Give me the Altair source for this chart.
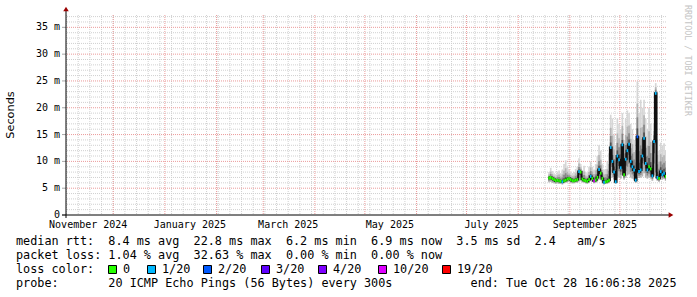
import altair as alt
import pandas as pd

# ---------------- data ----------------
first_day = "2025-08-19"
median_ms = [6.9, 7.0, 6.8, 6.6, 6.4, 6.5, 6.4, 6.3, 6.2, 6.4, 6.5, 6.7, 6.8,
             6.6, 6.4, 6.4, 6.5, 6.6, 8.1, 8.0, 6.7, 6.5, 6.4, 6.3, 6.6, 7.2, 6.8, 6.4, 6.5, 7.0,
             8.5, 7.8, 6.8, 6.1, 6.2, 6.3, 6.5, 12.6, 10.0, 8.0, 6.2, 11.0, 10.3,
             8.8, 13.1, 7.5, 10.4, 12.0, 13.2, 10.0, 9.0, 8.4, 6.5, 14.6, 8.1, 8.4, 11.0,
             14.3, 9.6, 8.4, 9.0, 8.6, 7.3, 13.7, 22.7, 7.0, 6.8, 8.1, 7.5, 7.8, 7.2]
smoke_hi_ms = [8.0, 8.8, 8.2, 7.8, 7.6, 8.0, 8.3, 7.8, 8.5, 9.5, 10.2, 9.0, 8.4,
               8.0, 7.8, 8.0, 8.6, 9.0, 10.6, 9.5, 8.4, 9.2, 8.0, 7.8, 9.0, 10.0, 9.0, 8.5, 9.5, 11.0,
               13.0, 12.0, 9.5, 8.5, 8.6, 10.0, 11.5, 18.7, 18.0, 15.0, 13.0, 18.0, 17.0,
               16.0, 19.0, 14.0, 18.0, 19.5, 19.0, 17.0, 16.0, 14.0, 12.0, 24.9, 19.0, 21.5, 20.0,
               21.5, 18.0, 16.0, 20.0, 17.0, 13.0, 17.0, 24.6, 14.0, 12.0, 13.5, 13.0, 13.4, 12.0]
smoke_lo_ms = [6.1, 6.2, 6.0, 5.9, 5.8, 5.9, 5.8, 5.8, 5.7, 5.9, 6.0, 6.1, 6.2,
               6.0, 5.9, 5.9, 6.0, 6.0, 6.3, 6.4, 6.1, 6.0, 5.9, 5.8, 6.0, 6.3, 6.2, 5.9, 6.0, 6.3,
               6.6, 6.5, 6.2, 5.7, 5.8, 5.8, 6.0, 7.5, 7.0, 6.6, 5.8, 7.2, 7.0,
               6.8, 7.5, 6.6, 7.0, 7.4, 7.6, 7.0, 6.8, 6.6, 6.0, 7.8, 6.9, 7.0, 7.2,
               7.8, 7.0, 6.8, 7.0, 6.8, 6.4, 7.4, 8.0, 6.4, 6.2, 6.8, 6.6, 6.7, 6.4]
loss_idx = [0, 0, 0, 0, 0, 0, 0, 0, 1, 0, 0, 0, 0,
            0, 0, 0, 0, 0, 1, 0, 0, 0, 0, 0, 0, 1, 0, 5, 0, 0,
            1, 0, 0, 1, 0, 0, 0, 1, 1, 1, 1, 1, 1,
            1, 1, 0, 1, 1, 1, 1, 1, 1, 1, 2, 1, 1, 1,
            1, 1, 1, 0, 0, 1, 1, 1, 1, 0, 1, 1, 1, 0]

loss_labels = ["0", "1/20", "2/20", "3/20", "4/20", "10/20", "19/20"]
loss_colors = ["#26ff00", "#00b8ff", "#0059ff", "#5e00ff", "#7e00ff", "#dd00ff", "#ff0000"]

y_label_values = [0, 5, 10, 15, 20, 25, 30, 35]
y_minor_values = [v for v in range(1, 38) if v % 5 != 0]
y_major_values = [5, 10, 15, 20, 25, 30, 35]

month_lines = ["2024-12-01", "2025-01-01", "2025-02-01", "2025-03-01", "2025-04-01",
               "2025-05-01", "2025-06-01", "2025-07-01", "2025-08-01", "2025-09-01", "2025-10-01"]
x_label_dates = ["2024-11-16", "2025-01-16", "2025-03-16", "2025-05-16", "2025-07-16", "2025-09-16"]
x_label_text = ["November 2024", "January 2025", "March 2025", "May 2025", "July 2025", "September 2025"]

legend_lines = [
    "median rtt:  8.4 ms avg  22.8 ms max  6.2 ms min  6.9 ms now  3.5 ms sd  2.4   am/s",
    "packet loss: 1.04 % avg  32.63 % max  0.00 % min  0.00 % now",
    "loss color:",
    "probe:       20 ICMP Echo Pings (56 Bytes) every 300s           end: Tue Oct 28 16:06:38 2025",
]

# ---------------- build tables ----------------
days = pd.date_range(first_day, periods=len(median_ms), freq="D")
fmt = "%Y-%m-%dT%H:%M:%SZ"
df = pd.DataFrame({
    "t0": [d.strftime(fmt) for d in days],
    "t1": [(d + pd.Timedelta(days=1)).strftime(fmt) for d in days],
    "med": median_ms, "lo": smoke_lo_ms, "hi": smoke_hi_ms,
    "loss": [loss_labels[i] for i in loss_idx],
})
bands = [(1.0, 0.0, "#d6d6d6"), (0.6, 0.0, "#b4b4b4"), (0.35, 0.35, "#878787"), (0.15, 0.65, "#505050")]
for k, (fu, fl, _) in enumerate(bands):
    df[f"top{k}"] = df["med"] + fu * (df["hi"] - df["med"])
    df[f"bot{k}"] = df["lo"] + fl * (df["med"] - df["lo"])

line_df = pd.concat([df[["t0", "med"]],
                     pd.DataFrame({"t0": [df["t1"].iloc[-1]], "med": [median_ms[-1]]})], ignore_index=True)

weeks = pd.date_range("2024-11-03", "2025-10-26", freq="7D")
week_df = pd.DataFrame({"t": [w.strftime(fmt) for w in weeks]})
month_df = pd.DataFrame({"t": [m + "T00:00:00Z" for m in month_lines]})
yminor_df = pd.DataFrame({"v": y_minor_values})
ymajor_df = pd.DataFrame({"v": y_major_values})
ylab_df = pd.DataFrame({"v": y_label_values,
                        "lab": ["0" if v == 0 else f"{v} m" for v in y_label_values]})
xlab_df = pd.DataFrame({"t": [d + "T00:00:00Z" for d in x_label_dates], "lab": x_label_text})

W, H = 600, 200
xs = alt.Scale(type="utc", domain=[alt.DateTime(year=2024, month=11, date=2, hours=16, minutes=6, utc=True),
                                   alt.DateTime(year=2025, month=10, date=28, hours=16, minutes=6, utc=True)])
ys = alt.Scale(domain=[0, 37.3], nice=False, zero=True)

MONO = "DejaVu Sans Mono"

grid_minor_h = alt.Chart(yminor_df).mark_rule(color="#d0d0d0", strokeDash=[1, 1], strokeWidth=1).encode(
    y=alt.Y("v:Q", scale=ys, axis=None))
grid_minor_v = alt.Chart(week_df).mark_rule(color="#d0d0d0", strokeDash=[1, 1], strokeWidth=1).encode(
    x=alt.X("t:T", scale=xs, axis=None))
grid_major_h = alt.Chart(ymajor_df).mark_rule(color="#eb9a9a", strokeDash=[1, 1], strokeWidth=1).encode(
    y=alt.Y("v:Q", scale=ys, axis=None))
grid_major_v = alt.Chart(month_df).mark_rule(color="#eb9a9a", strokeDash=[1, 1], strokeWidth=1).encode(
    x=alt.X("t:T", scale=xs, axis=None))

smoke_layers = []
for k, (_, _, col) in enumerate(bands):
    smoke_layers.append(alt.Chart(df).mark_rect(color=col, clip=True).encode(
        x=alt.X("t0:T", scale=xs, axis=None), x2="t1",
        y=alt.Y(f"bot{k}:Q", scale=ys, axis=None), y2=f"top{k}"))

median_line = alt.Chart(line_df).mark_line(interpolate="step-after", color="#101010", strokeWidth=2,
                                           clip=True).encode(
    x=alt.X("t0:T", scale=xs, axis=None), y=alt.Y("med:Q", scale=ys, axis=None))
median_loss = alt.Chart(df).mark_rule(strokeWidth=3, clip=True).encode(
    x=alt.X("t0:T", scale=xs, axis=None), x2="t1",
    y=alt.Y("med:Q", scale=ys, axis=None),
    color=alt.Color("loss:N", scale=alt.Scale(domain=loss_labels, range=loss_colors), legend=None))

# ---- axes (drawn with the chart's own scales) ----
y_labels = alt.Chart(ylab_df).mark_text(align="right", baseline="middle", font=MONO, fontSize=10,
                                        color="#000000").encode(
    y=alt.Y("v:Q", scale=ys, axis=None), x=alt.value(-6), text="lab:N")
y_ticks = alt.Chart(ylab_df).mark_rule(color="#a8a8a8", strokeWidth=1).encode(
    y=alt.Y("v:Q", scale=ys, axis=None), x=alt.value(-4), x2=alt.value(0))
x_labels = alt.Chart(xlab_df).mark_text(align="center", baseline="middle", font=MONO, fontSize=10,
                                        color="#000000").encode(
    x=alt.X("t:T", scale=xs, axis=None), y=alt.value(H + 10), text="lab:N")

one = pd.DataFrame({"a": [0]})
y_title = alt.Chart(pd.DataFrame({"t": ["Seconds"]})).mark_text(
    align="center", baseline="middle", angle=270, font="DejaVu Sans", fontSize=11.3, color="#000000").encode(
    text="t:N", x=alt.value(-55), y=alt.value(100))
y_axis_line = alt.Chart(one).mark_rule(color="#000000", strokeWidth=1).encode(
    x=alt.value(0), y=alt.value(-6), y2=alt.value(203))
x_axis_line = alt.Chart(one).mark_rule(color="#000000", strokeWidth=1).encode(
    x=alt.value(-4), x2=alt.value(603), y=alt.value(H))
y_arrow = alt.Chart(one).mark_point(shape="triangle-up", filled=True, size=30, color="#9a0000", opacity=1).encode(
    x=alt.value(0), y=alt.value(-6))
x_arrow = alt.Chart(one).mark_point(shape="triangle-right", filled=True, size=30, color="#9a0000", opacity=1).encode(
    x=alt.value(605), y=alt.value(H))

texts = []
for i, line in enumerate(legend_lines):
    texts.append(alt.Chart(pd.DataFrame({"t": [line.replace(" ", "\u00a0")]})).mark_text(
        align="left", baseline="middle", font=MONO, fontSize=11.8, color="#000000").encode(
        text="t:N", x=alt.value(-50), y=alt.value(226 + 14 * i)))

box_left = [108, 147, 203, 261, 318, 378, 442]  # legend layout (pixels, page coords)
for bx, lab, col in zip(box_left, loss_labels, loss_colors):
    texts.append(alt.Chart(one).mark_rect(fill=col, stroke="#000000", strokeWidth=1).encode(
        x=alt.value(bx - 66 + 0.5), x2=alt.value(bx - 66 + 8.5), y=alt.value(250.5), y2=alt.value(258.5)))
    texts.append(alt.Chart(pd.DataFrame({"t": [lab]})).mark_text(
        align="left", baseline="middle", font=MONO, fontSize=11.8, color="#000000").encode(
        text="t:N", x=alt.value(bx - 66 + 15), y=alt.value(254)))

watermark = alt.Chart(pd.DataFrame({"t": ["RRDTOOL / TOBI OETIKER"]})).mark_text(
    align="left", baseline="middle", angle=90, font=MONO, fontSize=8.4, color="#c4c4c4").encode(
    text="t:N", x=alt.value(622), y=alt.value(-10))

chart = alt.layer(
    grid_minor_h, grid_minor_v, grid_major_h, grid_major_v,
    *smoke_layers, median_line, median_loss,
    y_ticks, y_labels, x_labels, y_title,
    y_axis_line, x_axis_line, y_arrow, x_arrow, watermark, *texts
).properties(
    width=W, height=H,
    autosize=alt.AutoSizeParams(type="none"),
    padding={"left": 66, "top": 15, "right": 31, "bottom": 82},
    background="#ffffff",
).configure_view(stroke=None)

chart.save("out.html", embed_options={"renderer": "svg", "actions": False})
